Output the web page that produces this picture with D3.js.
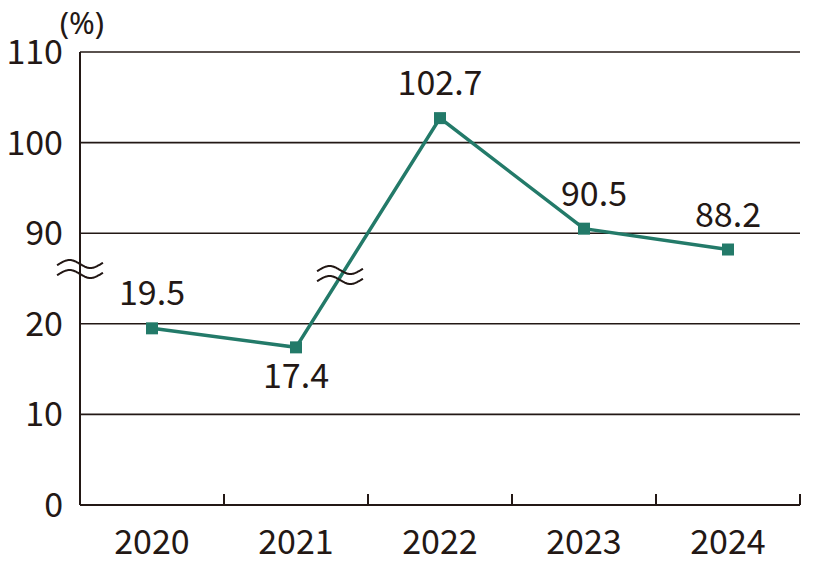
<!DOCTYPE html>
<html><head><meta charset="utf-8">
<script src="https://cdn.jsdelivr.net/npm/d3@7"></script>
<style>body{margin:0;background:#fff}svg{display:block}text{font-family:"Noto Sans CJK JP","Noto Sans",sans-serif;fill:#231815}</style>
</head><body><svg id="c" width="840" height="580"></svg>
<script>
const years = ["2020","2021","2022","2023","2024"];
const values = [19.5, 17.4, 102.7, 90.5, 88.2];
const yTicks = [0, 10, 20, 90, 100, 110];
const breakLow = 20, breakHigh = 90; // axis break between these values
const unit = "(%)";

const svg = d3.select("#c");
const m = {l:80, r:800, t:52, b:505};
const x = d3.scaleBand().domain(years).range([m.l, m.r]);
// compress the break: values above the break shift down by (breakHigh - breakLow - 10)
const shift = breakHigh - breakLow - 10;
const toDisp = v => v >= (breakLow + breakHigh)/2 ? v - shift : v;
const yLin = d3.scaleLinear().domain([0, 110 - shift]).range([m.b, m.t]);
const y = v => yLin(toDisp(v));
const ink = "#231815", green = "#237a69";

// gridlines
svg.append("g").selectAll("line").data(yTicks.filter(t => t > 0)).join("line")
  .attr("x1", m.l).attr("x2", m.r).attr("y1", d => y(d)).attr("y2", d => y(d))
  .attr("stroke", ink).attr("stroke-width", 1.6);

// y axis line
svg.append("line").attr("x1", m.l).attr("x2", m.l).attr("y1", m.t).attr("y2", m.b)
  .attr("stroke", ink).attr("stroke-width", 2);

// x axis
svg.append("line").attr("x1", m.l).attr("x2", m.r).attr("y1", m.b).attr("y2", m.b)
  .attr("stroke", ink).attr("stroke-width", 2);
svg.append("g").selectAll("line").data(years).join("line")
  .attr("x1", d => x(d) + x.bandwidth()).attr("x2", d => x(d) + x.bandwidth())
  .attr("y1", m.b).attr("y2", m.b - 11).attr("stroke", ink).attr("stroke-width", 2);
svg.append("g").selectAll("text").data(years).join("text")
  .attr("x", d => x(d) + x.bandwidth()/2).attr("y", 554)
  .attr("text-anchor", "middle").attr("font-size", 34).text(d => d);

// y tick labels
svg.append("g").selectAll("text").data(yTicks).join("text")
  .attr("x", 63).attr("y", d => y(d) + 12)
  .attr("text-anchor", "end").attr("font-size", 34).text(d => d);
svg.append("text").attr("x", 82).attr("y", 34).attr("text-anchor", "middle")
  .style("font-family", "'Noto Sans', sans-serif")
  .attr("font-size", 31).text(unit);

// line
const cx = d => x(d) + x.bandwidth()/2;
const pts = years.map((d, i) => [cx(d), y(values[i])]);
svg.append("path").attr("d", d3.line()(pts)).attr("fill", "none")
  .attr("stroke", green).attr("stroke-width", 3.5);
svg.append("g").selectAll("rect").data(pts).join("rect")
  .attr("x", d => d[0] - 6).attr("y", d => d[1] - 6).attr("width", 12).attr("height", 12)
  .attr("fill", green);

// break marks (tilde pairs)
function wave(cxp, cyp, w, amp, off) {
  const n = 40;
  const g = svg.append("g");
  [-off, off].forEach(o => {
    const a = [];
    for (let i = 0; i <= n; i++) {
      const t = i / n;
      a.push([cxp - w/2 + t*w, cyp + o - Math.sin((t * 1.1 - 0.05) * Math.PI * 2) * amp]);
    }
    g.append("path").attr("d", d3.line().curve(d3.curveBasis)(a)).attr("fill", "none")
      .attr("stroke", ink).attr("stroke-width", 2);
  });
}
wave(80, 269, 46, 4, 5);
wave(340, 275, 46, 4, 5);

// data labels
const lab = [[0, -23], [0, 41], [0, -23], [10, -23], [0, -23]];
svg.append("g").selectAll("text").data(values).join("text")
  .attr("x", (d, i) => pts[i][0] + lab[i][0]).attr("y", (d, i) => pts[i][1] + lab[i][1])
  .attr("text-anchor", "middle").attr("font-size", 34).text(d => d.toFixed(1));
</script></body></html>
